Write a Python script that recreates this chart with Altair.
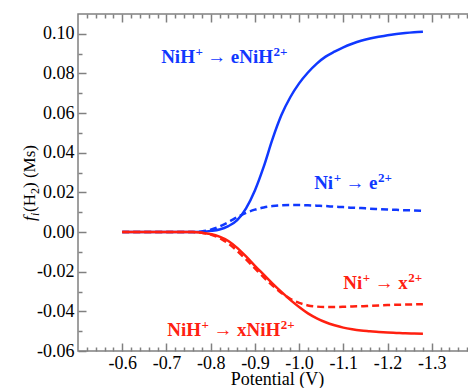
import altair as alt
import pandas as pd

# ---------------- data ----------------
potential = [-0.60, -0.62, -0.64, -0.66, -0.68, -0.70, -0.72, -0.74, -0.76, -0.78,
             -0.80, -0.82, -0.84, -0.86, -0.88, -0.90, -0.92, -0.94, -0.96, -0.98,
             -1.00, -1.02, -1.04, -1.06, -1.08, -1.10, -1.12, -1.14, -1.16, -1.18,
             -1.20, -1.22, -1.24, -1.26, -1.28]

nih_e = [0, 0, 0, 0, 0, 0, 0, 0, 0, 0.0002,
         0.0006, 0.0013, 0.0030, 0.0060, 0.0120, 0.0210, 0.0330, 0.0470, 0.0590, 0.0680,
         0.0750, 0.0805, 0.0850, 0.0885, 0.0910, 0.0932, 0.0950, 0.0965, 0.0976, 0.0985,
         0.0993, 0.0999, 0.1004, 0.1008, 0.1011]

ni_e = [0, 0, 0, 0, 0, 0, 0, 0, 0, 0.0003,
        0.0012, 0.0028, 0.0050, 0.0075, 0.0097, 0.0113, 0.0124, 0.0131, 0.0135, 0.0136,
        0.0136, 0.0135, 0.0133, 0.0131, 0.0128, 0.0126, 0.0123, 0.0121, 0.0118, 0.0116,
        0.0114, 0.0112, 0.0110, 0.0109, 0.0107]

nih_x = [0, 0, 0, 0, 0, 0, 0, 0, 0, -0.0003,
         -0.0010, -0.0023, -0.0045, -0.0080, -0.0123, -0.0170, -0.0215, -0.0260, -0.0302, -0.0342,
         -0.0378, -0.0410, -0.0435, -0.0455, -0.0470, -0.0482, -0.0490, -0.0496, -0.0500, -0.0504,
         -0.0507, -0.0509, -0.0511, -0.0512, -0.0513]

ni_x = [0, 0, 0, 0, 0, 0, 0, 0, 0, -0.0004,
        -0.0012, -0.0030, -0.0058, -0.0095, -0.0138, -0.0183, -0.0228, -0.0270, -0.0307, -0.0337,
        -0.0357, -0.0370, -0.0376, -0.0378, -0.0378, -0.0377, -0.0375, -0.0374, -0.0372, -0.0370,
        -0.0368, -0.0367, -0.0366, -0.0365, -0.0364]

# curve labels: (before arrow, superscript, after arrow, superscript)
label_left = ["NiH", "Ni", "Ni", "NiH"]
label_left_sup = ["+", "+", "+", "+"]
label_right = ["eNiH", "e", "x", "xNiH"]
label_right_sup = ["2+", "2+", "2+", "2+"]
label_x = [-0.688, -1.034, -1.100, -0.702]      # left start of each label
label_y = [0.0884, 0.0247, -0.0257, -0.0494]
label_color = ["#1038ff", "#1038ff", "#ff2010", "#ff2010"]

x_major = [-0.6, -0.7, -0.8, -0.9, -1.0, -1.1, -1.2, -1.3]
x_minor = [round(-0.5 - 0.02 * k, 2) for k in range(1, 45) if k % 5 != 0]
y_major = [-0.06, -0.04, -0.02, 0.0, 0.02, 0.04, 0.06, 0.08, 0.10]
y_minor = [round(-0.06 + 0.01 * k, 2) for k in range(1, 17) if k % 2 != 0]

BLUE = "#1038ff"
RED = "#ff2010"
GRAY = "#808080"
FONT = "Liberation Serif"

XS = alt.Scale(domain=[-0.5, -1.4], nice=False, zero=False)
YS = alt.Scale(domain=[-0.06, 0.11], nice=False, zero=False)


def df_for(vals):
    return pd.DataFrame({"potential": potential, "f": vals})


def tick_axis(orient, values, size, labels=False, **kw):
    return alt.Axis(orient=orient, values=values, tickSize=alt.ExprRef(expr=str(-size)),
                    tickColor=GRAY, tickWidth=1.5, domain=False, grid=False,
                    labels=labels, labelOverlap=False, **kw)


x_bottom = tick_axis("bottom", x_major, 8, labels=True, format=".1f",
                     labelExpr="replace(datum.label, '−', '-')",
                     labelFont=FONT, labelFontSize=18, labelColor="black", labelPadding=11,
                     title="Potential (V)", titleFont=FONT, titleFontSize=18,
                     titleFontWeight="normal", titleColor="black", titleY=33,
                     titleBaseline="alphabetic")
y_left = tick_axis("left", y_major, 8, labels=True, format=".2f",
                   labelExpr="replace(datum.label, '−', '-')",
                   labelFont=FONT, labelFontSize=18, labelColor="black", labelPadding=12,
                   title=None)

l1 = alt.Chart(df_for(nih_e)).mark_line(color=BLUE, strokeWidth=2.5, interpolate="monotone").encode(
    x=alt.X("potential:Q", scale=XS, axis=x_bottom),
    y=alt.Y("f:Q", scale=YS, axis=y_left),
)
l2 = alt.Chart(df_for(ni_e)).mark_line(color=BLUE, strokeWidth=2.5, strokeDash=[7, 4],
                                       interpolate="monotone").encode(
    x=alt.X("potential:Q", scale=XS, axis=tick_axis("top", x_major, 8, title=None)),
    y=alt.Y("f:Q", scale=YS, axis=tick_axis("right", y_major, 8, title=None)),
)
l3 = alt.Chart(df_for(nih_x)).mark_line(color=RED, strokeWidth=2.5, interpolate="monotone").encode(
    x=alt.X("potential:Q", scale=XS, axis=tick_axis("bottom", x_minor, 4, title=None)),
    y=alt.Y("f:Q", scale=YS, axis=tick_axis("left", y_minor, 4, title=None)),
)
l4 = alt.Chart(df_for(ni_x)).mark_line(color=RED, strokeWidth=2.5, strokeDash=[7, 4],
                                       interpolate="monotone").encode(
    x=alt.X("potential:Q", scale=XS, axis=tick_axis("top", x_minor, 4, title=None)),
    y=alt.Y("f:Q", scale=YS, axis=tick_axis("right", y_minor, 4, title=None)),
)

# ----- curve labels, built from pieces so that superscripts are real raised text -----
MAIN = 19
SUP = 13
BOLD_W = {"N": 0.722, "i": 0.278, "H": 0.778, "e": 0.444, "x": 0.5, "+": 0.57, "2": 0.5}


def text_w(s, size):
    return sum(BOLD_W[c] for c in s) * size


label_layers = []
for i in range(len(label_left)):
    row = pd.DataFrame({"x": [label_x[i]], "y": [label_y[i]]})
    pieces = []
    pos = 0.0
    pieces.append((label_left[i], pos, 0, MAIN, "bold", "left"))
    pos += text_w(label_left[i], MAIN) + 0.5
    pieces.append((label_left_sup[i], pos, -5, SUP, "bold", "left"))
    pos += text_w(label_left_sup[i], SUP)
    pieces.append(("→", pos + 14, 0, 19, "bold", "center"))
    pos += 28
    pieces.append((label_right[i], pos, 0, MAIN, "bold", "left"))
    pos += text_w(label_right[i], MAIN) + 0.5
    pieces.append((label_right_sup[i], pos, -5, SUP, "bold", "left"))
    for txt, dx, dy, size, weight, align in pieces:
        label_layers.append(
            alt.Chart(row).mark_text(text=txt, dx=dx, dy=dy, font=FONT, fontSize=size,
                                     fontWeight=weight, align=align, baseline="middle",
                                     color=label_color[i]).encode(
                x=alt.X("x:Q", scale=XS, axis=None),
                y=alt.Y("y:Q", scale=YS, axis=None),
            )
        )

# y-axis title f_i(H_2) (Ms), built from rotated pieces
one = pd.DataFrame({"a": [0]})


def piece(txt, x, y, size, style="normal"):
    return alt.Chart(one).mark_text(text=txt, font=FONT, fontSize=size, fontStyle=style,
                                    angle=270, align="left", baseline="alphabetic",
                                    color="black").encode(x=alt.value(x), y=alt.value(y))


ytitle = [
    piece("f", -43.5, 207, 17, "italic"),
    piece("i", -39.5, 202, 12, "italic"),
    piece("(H", -43.5, 198, 17),
    piece("2", -39.5, 180, 12),
    piece(") (Ms)", -43.5, 174, 17),
]

chart = alt.layer(l1, l2, l3, l4, *label_layers, *ytitle).resolve_axis(
    x="independent", y="independent"
).properties(
    width=398, height=337,
    autosize=alt.AutoSizeParams(type="none"),
    padding={"left": 70, "top": 6, "right": -8, "bottom": 37},
).configure_view(stroke=GRAY, strokeWidth=1.5)

chart.save("out.html", embed_options={"renderer": "svg", "actions": False})
